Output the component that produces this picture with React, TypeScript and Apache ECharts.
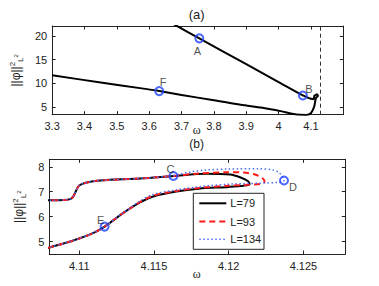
import { useEffect, useRef } from 'react';
import * as echarts from 'echarts';

// ---------- Panel (a) ----------
const topOmega = [3.67, 3.755, 3.9, 4.0, 4.075, 4.09, 4.1, 4.108, 4.1095, 4.1098, 4.1105, 4.113, 4.1163, 4.1185, 4.1201, 4.1211, 4.1214, 4.1205, 4.118, 4.1165, 4.1141, 4.1117, 4.11, 4.108, 4.105, 4.1, 4.095, 4.085, 4.065, 4.046, 4.006, 3.95, 3.883, 3.8, 3.7, 3.631, 3.577, 3.45, 3.3];
const topNorm = [22.7, 19.5, 14.05, 10.28, 7.45, 7.0, 6.75, 6.66, 6.75, 7.1, 7.38, 7.5, 7.63, 7.72, 7.68, 7.5, 7.3, 7.22, 7.12, 7.0, 6.55, 5.6, 5.12, 4.76, 4.3, 3.8, 3.5, 3.35, 3.38, 3.55, 4.15, 4.85, 5.5, 6.45, 7.55, 8.38, 8.95, 10.2, 11.7];
const topPointNames = ['A', 'B', 'F'];
const topPointOmega = [3.755, 4.075, 3.631];
const topPointNorm = [19.5, 7.45, 8.38];
const topXTicks = { min: 3.3, max: 4.2, interval: 0.1 };
const topYTicks = [5, 10, 15, 20];
const topAsymptote = 4.1257;

// ---------- Panel (b) ----------
const l79Omega = [4.1075, 4.108, 4.109, 4.1094, 4.1096, 4.1098, 4.11, 4.1105, 4.1114, 4.1141, 4.1163, 4.1185, 4.1201, 4.1208, 4.1213, 4.1214, 4.121, 4.12, 4.118, 4.1165, 4.115, 4.1141, 4.113, 4.1117, 4.111, 4.11, 4.109, 4.108, 4.1075];
const l79Norm = [6.66, 6.66, 6.67, 6.7, 6.8, 7.05, 7.25, 7.37, 7.45, 7.53, 7.63, 7.72, 7.69, 7.57, 7.42, 7.3, 7.24, 7.19, 7.12, 7.01, 6.82, 6.58, 6.17, 5.6, 5.36, 5.12, 4.93, 4.76, 4.68];
const l93Omega = [4.1075, 4.108, 4.109, 4.1094, 4.1096, 4.1098, 4.11, 4.1105, 4.1114, 4.1141, 4.1163, 4.118, 4.12, 4.121, 4.1218, 4.1223, 4.1224, 4.1221, 4.121, 4.12, 4.118, 4.1165, 4.115, 4.1141, 4.113, 4.1117, 4.111, 4.11, 4.109, 4.108, 4.1075];
const l93Norm = [6.66, 6.66, 6.67, 6.7, 6.8, 7.05, 7.25, 7.37, 7.45, 7.53, 7.63, 7.73, 7.78, 7.77, 7.68, 7.52, 7.4, 7.31, 7.27, 7.24, 7.15, 7.03, 6.85, 6.6, 6.17, 5.6, 5.36, 5.12, 4.93, 4.76, 4.68];
const l134Omega = [4.1075, 4.108, 4.109, 4.1094, 4.1096, 4.1098, 4.11, 4.1105, 4.1114, 4.1141, 4.1163, 4.1175, 4.1185, 4.12, 4.122, 4.1229, 4.1234, 4.1237, 4.1233, 4.122, 4.12, 4.118, 4.1165, 4.115, 4.1141, 4.113, 4.1117, 4.111, 4.11, 4.109, 4.108, 4.1075];
const l134Norm = [6.66, 6.66, 6.67, 6.7, 6.8, 7.05, 7.25, 7.37, 7.45, 7.53, 7.65, 7.8, 7.87, 7.91, 7.92, 7.88, 7.75, 7.45, 7.38, 7.34, 7.3, 7.2, 7.07, 6.9, 6.64, 6.17, 5.6, 5.36, 5.12, 4.93, 4.76, 4.68];
const bottomPointNames = ['C', 'D', 'E'];
const bottomPointOmega = [4.1163, 4.1237, 4.1117];
const bottomPointNorm = [7.63, 7.45, 5.6];
const bottomXTicks = [4.11, 4.115, 4.12, 4.125];
const bottomYTicks = [5, 6, 7, 8];
const bottomAsymptote = 4.1263;
const legendNames = ['L=79', 'L=93', 'L=134'];

const zip = (a: number[], b: number[]) => a.map((v, i) => [v, b[i]]);

const FONT = 'Liberation Sans, Arial, sans-serif';
const TXT = '#222';
const MARK = '#1f45fc';
const lineColors = ['#000', '#ff1a1a', '#4a6cf0'];
const lineWidths = [2, 2, 1.5];
const lineTypes: any[] = ['solid', [6, 4], [1.5, 2.5]];

const labelOffsets: Record<string, [number, number]> = {
  A: [-2, 13], B: [6, -6], F: [4, -9], C: [-3, -7], D: [9, 7], E: [-4, -7],
};

const yName = {
  name: '{a|||\u03c6||}{b|2}{c|L}{d|2}',
  nameLocation: 'middle',
  nameRotate: 90,
  nameGap: 21,
  nameTextStyle: {
    color: TXT,
    fontFamily: FONT,
    rich: {
      a: { fontSize: 12, lineHeight: 16, verticalAlign: 'middle', color: TXT, fontFamily: FONT },
      b: { fontSize: 8, lineHeight: 16, verticalAlign: 'top', color: TXT, fontFamily: FONT },
      c: { fontSize: 8, lineHeight: 16, verticalAlign: 'bottom', color: TXT, fontFamily: FONT },
      d: { fontSize: 6, lineHeight: 16, verticalAlign: 'middle', color: TXT, fontFamily: FONT },
    },
  },
};

function axisPair(gridIndex: number) {
  return {
    axisLine: { show: true, onZero: false, lineStyle: { color: '#222', width: 1 } },
    axisTick: { show: true, inside: true, length: 3.5, lineStyle: { color: '#222', width: 1 } },
    splitLine: { show: false },
    gridIndex,
  };
}

function legendGraphic(): any[] {
  const left = 193.3, top = 193.3, w = 70.7, h = 56;
  const rows = [203.3, 221.5, 239.3];
  const out: any[] = [
    { type: 'rect', z: 60, shape: { x: left, y: top, width: w, height: h }, style: { fill: '#fff', stroke: '#222', lineWidth: 1 } },
  ];
  legendNames.forEach((n, i) => {
    out.push({
      type: 'line', z: 61,
      shape: { x1: left + 6, y1: rows[i], x2: left + 33, y2: rows[i] },
      style: { stroke: lineColors[i], lineWidth: lineWidths[i], lineDash: lineTypes[i] === 'solid' ? null : lineTypes[i] },
    });
    out.push({
      type: 'text', z: 61, x: left + 37, y: rows[i],
      style: { text: n, fontFamily: FONT, fontSize: 11, fill: TXT, verticalAlign: 'middle', align: 'left' },
    });
  });
  return out;
}

export default function App() {
  const ref = useRef<HTMLDivElement>(null);
  useEffect(() => {
    if (!ref.current) return;
    const chart = echarts.init(ref.current, null, { renderer: 'svg' });

    const markerSeries = (names: string[], xs: number[], ys: number[], ax: number) => ({
      type: 'scatter',
      xAxisIndex: ax,
      yAxisIndex: ax,
      symbol: 'circle',
      symbolSize: 8,
      z: 5,
      itemStyle: { color: 'rgba(255,255,255,0)', borderColor: MARK, borderWidth: 2 },
      data: names.map((n, i) => ({
        name: n,
        value: [xs[i], ys[i]],
        label: {
          show: true,
          formatter: n,
          position: 'inside',
          offset: labelOffsets[n],
          color: TXT,
          fontFamily: FONT,
          fontSize: 11,
        },
      })),
    });

    const option: any = {
      animation: false,
      backgroundColor: '#fff',
      grid: [
        { left: 49.3, top: 26, width: 294, height: 88.7 },
        { left: 49.3, top: 159.3, width: 296, height: 94.7 },
      ],
      xAxis: [
        {
          ...axisPair(0), type: 'value', min: topXTicks.min, max: topXTicks.max, interval: topXTicks.interval,
          axisLabel: { showMaxLabel: false, color: TXT, fontFamily: FONT, fontSize: 11, margin: 6 },
        },
        {
          ...axisPair(1), type: 'value', min: 4.108, max: 4.1278,
          axisTick: { ...axisPair(1).axisTick, customValues: bottomXTicks },
          axisLabel: { customValues: bottomXTicks, color: TXT, fontFamily: FONT, fontSize: 11, margin: 6 },
        },
        {
          ...axisPair(0), type: 'value', position: 'top', min: topXTicks.min, max: topXTicks.max, interval: topXTicks.interval,
          axisLabel: { show: false },
        },
        {
          ...axisPair(1), type: 'value', position: 'top', min: 4.108, max: 4.1278,
          axisTick: { ...axisPair(1).axisTick, customValues: bottomXTicks },
          axisLabel: { show: false, customValues: bottomXTicks },
        },
      ],
      yAxis: [
        {
          ...axisPair(0), ...yName, type: 'value', min: 3.4, max: 22.1,
          axisTick: { ...axisPair(0).axisTick, customValues: topYTicks },
          axisLabel: { customValues: topYTicks, color: TXT, fontFamily: FONT, fontSize: 11, margin: 5 },
        },
        {
          ...axisPair(1), ...yName, type: 'value', min: 4.5, max: 8.3,
          axisTick: { ...axisPair(1).axisTick, customValues: bottomYTicks },
          axisLabel: { customValues: bottomYTicks, color: TXT, fontFamily: FONT, fontSize: 11, margin: 5 },
        },
        {
          ...axisPair(0), type: 'value', position: 'right', min: 3.4, max: 22.1,
          axisTick: { ...axisPair(0).axisTick, customValues: topYTicks },
          axisLabel: { show: false, customValues: topYTicks },
        },
        {
          ...axisPair(1), type: 'value', position: 'right', min: 4.5, max: 8.3,
          axisTick: { ...axisPair(1).axisTick, customValues: bottomYTicks },
          axisLabel: { show: false, customValues: bottomYTicks },
        },
      ],
      series: [
        {
          type: 'line', xAxisIndex: 0, yAxisIndex: 0, symbol: 'none', smooth: 0.3,
          lineStyle: { color: '#000', width: 2 },
          data: zip(topOmega, topNorm),
          markLine: {
            silent: true, symbol: ['none', 'none'], label: { show: false },
            lineStyle: { color: '#333', width: 1, type: [4, 3] },
            data: [{ xAxis: topAsymptote }],
          },
        },
        ...[zip(l79Omega, l79Norm), zip(l93Omega, l93Norm), zip(l134Omega, l134Norm)].map((d, i) => ({
          name: legendNames[i], type: 'line', xAxisIndex: 1, yAxisIndex: 1, symbol: 'none', smooth: 0.3,
          lineStyle: { color: lineColors[i], width: lineWidths[i], type: lineTypes[i] },
          data: d,
          markLine: i === 0 ? {
            silent: true, symbol: ['none', 'none'], label: { show: false },
            lineStyle: { color: '#888', width: 1, type: [5, 3] },
            data: [{ xAxis: bottomAsymptote }],
          } : undefined,
        })),
        markerSeries(topPointNames, topPointOmega, topPointNorm, 0),
        markerSeries(bottomPointNames, bottomPointOmega, bottomPointNorm, 1),
      ],
      graphic: [
        { type: 'text', x: 196.7, y: 14, style: { text: '(a)', fontSize: 13, fontFamily: FONT, fill: TXT, align: 'center', verticalAlign: 'middle' } },
        { type: 'text', x: 196.7, y: 144, style: { text: '(b)', fontSize: 12, fontFamily: FONT, fill: TXT, align: 'center', verticalAlign: 'middle' } },
        { type: 'text', x: 196.7, y: 129.5, style: { text: '\u03c9', fontSize: 12, fontFamily: 'Liberation Serif, serif', fill: TXT, align: 'center', verticalAlign: 'middle' } },
        { type: 'text', x: 196.7, y: 274, style: { text: '\u03c9', fontSize: 12, fontFamily: 'Liberation Serif, serif', fill: TXT, align: 'center', verticalAlign: 'middle' } },
        ...legendGraphic(),
      ],
    };
    chart.setOption(option);
    return () => chart.dispose();
  }, []);
  return <div ref={ref} style={{ position: 'fixed', left: 0, top: 0, width: 379, height: 286, background: '#fff' }} />;
}
